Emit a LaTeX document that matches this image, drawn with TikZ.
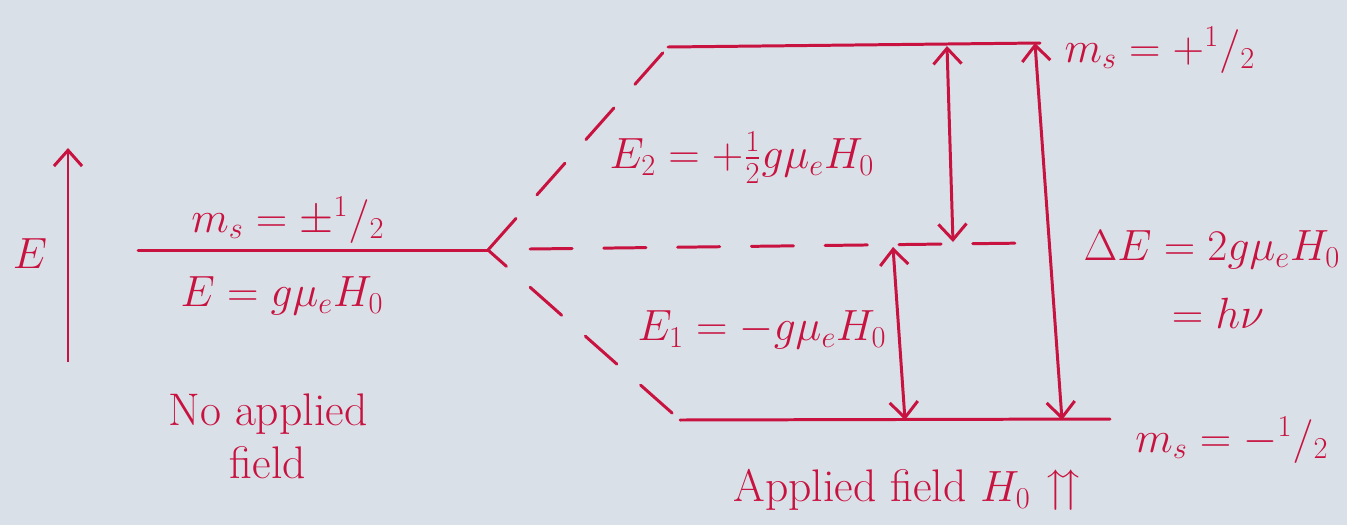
\documentclass[tikz,border=0pt]{standalone}
\usepackage{amsmath,amssymb}
\usetikzlibrary{arrows.meta}
\definecolor{ink}{RGB}{200,18,64}
\definecolor{paper}{RGB}{218,224,231}
\newcommand{\halfsl}{{}^{1}{/}_{2}}
\tikzset{
  level/.style={draw=ink, line width=1.7pt, line cap=round},
  dashlevel/.style={level, dash pattern=on 24pt off 18pt},
  gap/.style={draw=ink, line width=1.7pt, {Straight Barb[length=9pt,width=16pt]}-{Straight Barb[length=9pt,width=16pt]}},
  uparr/.style={draw=ink, line width=1.7pt, -{Straight Barb[length=9pt,width=16pt]}},
  lab/.style={text=ink, font=\fontsize{26}{30}\selectfont, inner sep=0pt, align=center},
  smalllab/.style={lab, font=\fontsize{24}{28}\selectfont}
}
\begin{document}
\begin{tikzpicture}[x=0.02cm, y=-0.02cm]
\fill[paper] (0,0) rectangle (1347,525);
\useasboundingbox (0,0) rectangle (1347,525);
% energy axis
\coordinate (ebot) at (68,362);
\coordinate (etop) at (68,148);
\draw[uparr] (ebot) -- (etop);
\node[lab] (elab) at (30,254) {$E$};
% zero-field level
\coordinate (l0a) at (138,250);
\coordinate (split) at (488,250);
\draw[level] (l0a) -- (split);
\node[lab] (ms0) at (288,220) {$m_s=\pm\halfsl$};
\node[lab] (e0) at (282,296) {$E=g\mu_eH_0$};
\node[lab] (noh) at (268,436) {No applied\\field};
% upper level
\coordinate (upc) at (668,47);
\coordinate (upe) at (1040,43);
\draw[dashlevel] (split) -- (upc);
\draw[level] (upc) -- (upe);
% lower level
\coordinate (loc) at (680,420);
\coordinate (loe) at (1110,419);
\draw[dashlevel, dash phase=10pt] (split) -- (loc);
\draw[level] (loc) -- (loe);
% middle dashed reference
\coordinate (mida) at (530,249);
\coordinate (midb) at (1030,243);
\draw[dashlevel] (mida) -- (midb);
% gap arrows
\coordinate (a1b) at (905,420);
\coordinate (a1t) at (893,247);
\draw[gap] (a1b) -- (a1t);
\coordinate (a2t) at (947,46);
\coordinate (a2b) at (953,242);
\draw[gap] (a2t) -- (a2b);
\coordinate (a3t) at (1035,43);
\coordinate (a3b) at (1062,420);
\draw[gap] (a3t) -- (a3b);
% labels
\node[lab] (e2) at (742,158) {$E_2=+\tfrac12 g\mu_eH_0$};
\node[smalllab] (e1) at (762,330) {$E_1=-g\mu_eH_0$};
\node[lab] (msu) at (1160,50) {$m_s=+\halfsl$};
\node[lab] (msd) at (1232,440) {$m_s=-\halfsl$};
\node[lab] (de) at (1212,250) {$\Delta E=2g\mu_eH_0$};
\node[lab] (hn) at (1218,313) {$=h\nu$};
\node[lab] (app) at (908,490) {Applied field $H_0$ $\upuparrows$};
\end{tikzpicture}
\end{document}
